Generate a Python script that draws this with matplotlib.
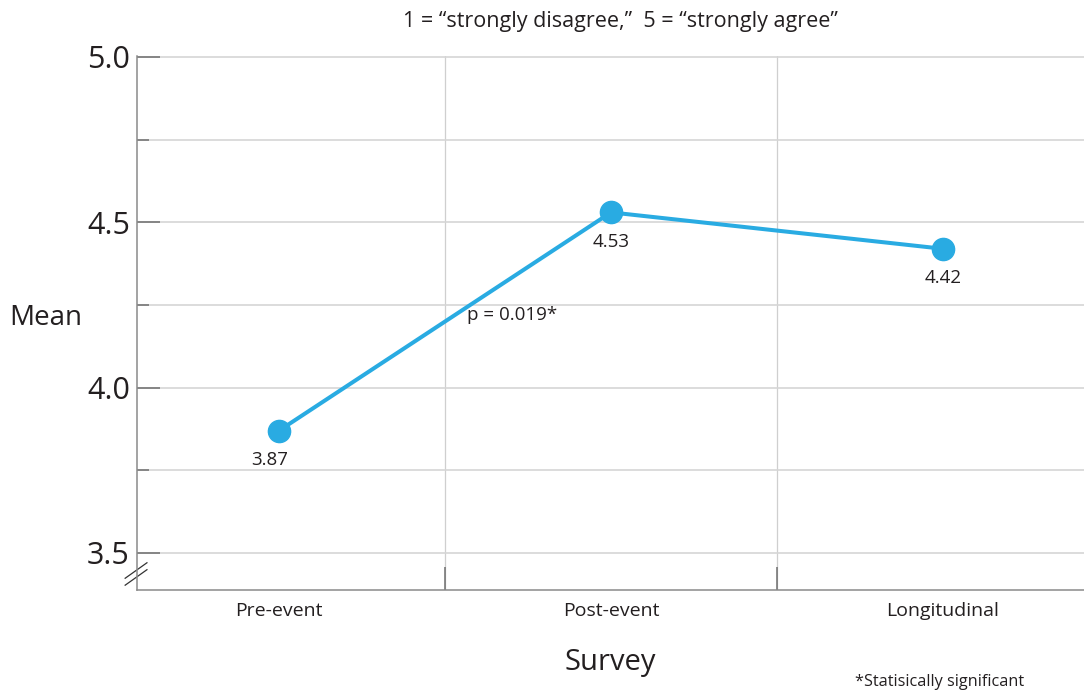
import numpy as np
import matplotlib
matplotlib.use('Agg')
import matplotlib.pyplot as plt
from matplotlib.ticker import MultipleLocator, FixedLocator, FormatStrFormatter

# data
surveys = ['Pre-event', 'Post-event', 'Longitudinal']
means = [3.87, 4.53, 4.42]
mean_labels = ['3.87', '4.53', '4.42']
p_label = 'p = 0.019*'

plt.rcParams['font.family'] = ['Open Sans', 'DejaVu Sans']

blue = '#29abe2'
grid_c = '#d6d6d6'
axis_c = '#8a8a8a'
text_c = '#231f20'

fig = plt.figure(figsize=(10.84, 6.91), dpi=100)
ax = fig.add_axes([137/1084, 1 - 590/691, 1 - 137/1084, (590 - 56)/691])

x = np.arange(len(surveys))
ax.plot(x, means, '-o', color=blue, lw=2.9, markersize=16, zorder=3, clip_on=False)

offsets = [(-7, -21), (0, -21), (0, -21)]
for xi, yi, lab, off in zip(x, means, mean_labels, offsets):
    ax.annotate(lab, (xi, yi), xytext=off, textcoords='offset points',
                ha='center', va='center', fontsize=13.5, color=text_c)

# p-value near the middle of the first segment
ax.annotate(p_label, ((x[0] + x[1]) / 2, (means[0] + means[1]) / 2), xytext=(48, 5),
            textcoords='offset points', ha='center', va='center', fontsize=13.5, color=text_c)

ax.set_xlim(-0.428, 2.425)
ax.set_ylim(3.388, 5.003)

ax.yaxis.set_major_locator(MultipleLocator(0.5))
ax.yaxis.set_minor_locator(FixedLocator([3.75, 4.25, 4.75]))
ax.yaxis.set_major_formatter(FormatStrFormatter('%.1f'))
ax.grid(True, axis='y', which='both', color=grid_c, lw=1.2, zorder=0)

ax.set_xticks(x)
ax.set_xticklabels(surveys)
ax.xaxis.set_minor_locator(FixedLocator([0.5, 1.5]))
ax.grid(True, axis='x', which='minor', color='#cfcfcf', lw=0.9, zorder=0)

ax.tick_params(axis='y', which='major', direction='in', length=16.5, width=1.1,
               color='#6e6e6e', labelsize=22, pad=5, labelcolor=text_c)
ax.tick_params(axis='y', which='minor', direction='in', length=8.5, width=1.1, color='#6e6e6e')
ax.tick_params(axis='x', which='major', length=0, labelsize=14, pad=9, labelcolor=text_c)
ax.tick_params(axis='x', which='minor', direction='in', length=16.5, width=1.1, color='#6e6e6e')

for s in ['top', 'right']:
    ax.spines[s].set_visible(False)
for s in ['left', 'bottom']:
    ax.spines[s].set_color(axis_c)
    ax.spines[s].set_linewidth(1.1)

# axis break mark
for dy in (0.0, -0.013):
    ax.plot([-0.0125, 0.0105], [0.022 + dy, 0.051 + dy], color='#333333', lw=0.9,
            transform=ax.transAxes, clip_on=False)

ax.set_xlabel('Survey', fontsize=21, color=text_c, labelpad=20)
fig.text(46/1084, 1 - 318/691, 'Mean', fontsize=20, color=text_c, ha='center', va='center')
fig.text(620/1084, 1 - 22/691, '1 = \u201cstrongly disagree,\u201d  5 = \u201cstrongly agree\u201d',
         fontsize=15.5, color=text_c, ha='center', va='center')
fig.text(940/1084, 1 - 682/691, '*Statisically significant', fontsize=11.7, color=text_c,
         ha='center', va='center')

fig.savefig('out.png', dpi=100)
